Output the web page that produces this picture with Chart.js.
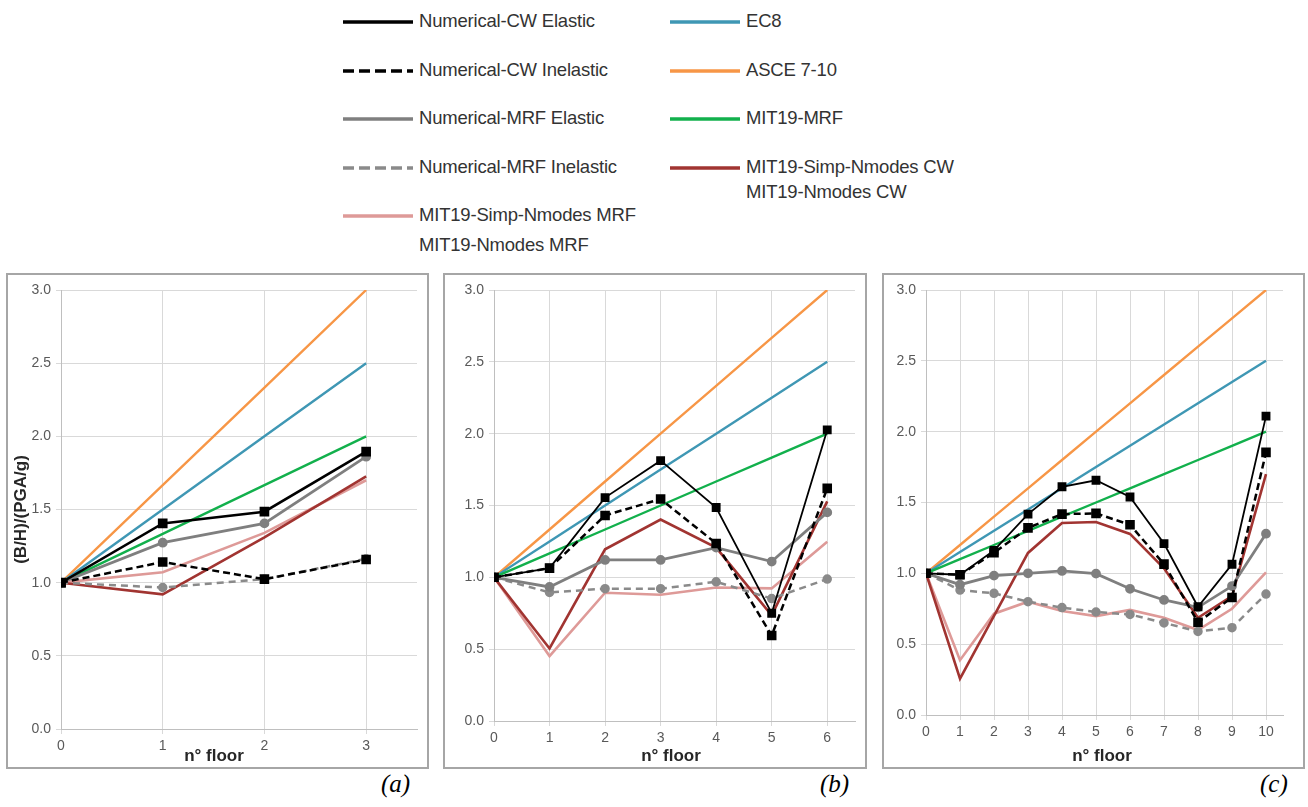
<!DOCTYPE html>
<html>
<head>
<meta charset="utf-8">
<script src="https://cdn.jsdelivr.net/npm/chart.js@4/dist/chart.umd.min.js"></script>
<style>
  body { margin: 0; width: 1308px; height: 807px; background: #fff; position: relative; overflow: hidden; }
  .frame { position: absolute; border: 2px solid #a6a6a6; box-sizing: border-box; }
  canvas { position: absolute; }
  .cap { position: absolute; font: italic 25px "Liberation Serif", "DejaVu Serif", serif; color: #000; }
  .leg { position: absolute; font: 18.5px "Liberation Sans", sans-serif; letter-spacing: -0.2px; color: #333; white-space: nowrap; }
  #legend svg { position: absolute; }
</style>
</head>
<body>
<div id="legend"></div>

<div class="frame" style="left:6px;top:273px;width:423px;height:496px"></div>
<div class="frame" style="left:443px;top:273px;width:424px;height:496px"></div>
<div class="frame" style="left:882px;top:273px;width:423px;height:496px"></div>

<canvas id="chartA" width="419" height="492" style="left:8px;top:275px"></canvas>
<canvas id="chartB" width="420" height="492" style="left:445px;top:275px"></canvas>
<canvas id="chartC" width="419" height="492" style="left:884px;top:275px"></canvas>

<div class="cap" style="left:381px;top:770px">(a)</div>
<div class="cap" style="left:820px;top:770px">(b)</div>
<div class="cap" style="left:1260px;top:770px">(c)</div>

<script>
// floors (x categories)
const floorsA = [0, 1, 2, 3];
const floorsB = [0, 1, 2, 3, 4, 5, 6];
const floorsC = [0, 1, 2, 3, 4, 5, 6, 7, 8, 9, 10];

// (a) 3 floors
const cwElasticA    = [1.0, 1.405, 1.485, 1.896];
const cwInelasticA  = [1.0, 1.141, 1.024, 1.158];
const mrfElasticA   = [1.0, 1.273, 1.405, 1.861];
const mrfInelasticA = [1.0, 0.967, 1.024, 1.163];
const nmodesCwA     = [1.0, 0.92, 1.31, 1.727];
const nmodesMrfA    = [1.0, 1.071, 1.34, 1.70];
const ec8A          = [1.0, 1.5, 2.0, 2.5];
const asceA         = [1.0, 1.667, 2.333, 3.0];
const mit19MrfA     = [1.0, 1.333, 1.667, 2.0];

// (b) 6 floors
const cwElasticB    = [1.0, 1.064, 1.555, 1.812, 1.486, 0.75, 2.026];
const cwInelasticB  = [1.0, 1.064, 1.431, 1.545, 1.236, 0.595, 1.619];
const mrfElasticB   = [1.0, 0.933, 1.121, 1.121, 1.207, 1.11, 1.452];
const mrfInelasticB = [1.0, 0.895, 0.921, 0.921, 0.969, 0.852, 0.988];
const nmodesCwB     = [1.0, 0.505, 1.195, 1.402, 1.207, 0.735, 1.529];
const nmodesMrfB    = [1.0, 0.452, 0.893, 0.879, 0.929, 0.923, 1.248];
const ec8B          = [1.0, 1.25, 1.5, 1.75, 2.0, 2.25, 2.5];
const asceB         = [1.0, 1.333, 1.667, 2.0, 2.333, 2.667, 3.0];
const mit19MrfB     = [1.0, 1.167, 1.333, 1.5, 1.667, 1.833, 2.0];

// (c) 10 floors
const cwElasticC    = [1.0, 0.99, 1.162, 1.418, 1.611, 1.657, 1.539, 1.21, 0.764, 1.064, 2.11];
const cwInelasticC  = [1.0, 0.99, 1.145, 1.321, 1.418, 1.423, 1.343, 1.065, 0.655, 0.83, 1.854];
const mrfElasticC   = [1.0, 0.92, 0.984, 1.0, 1.017, 0.998, 0.891, 0.812, 0.76, 0.91, 1.28];
const mrfInelasticC = [1.0, 0.882, 0.859, 0.80, 0.758, 0.727, 0.71, 0.65, 0.59, 0.616, 0.854];
const nmodesCwC     = [1.0, 0.257, 0.70, 1.144, 1.355, 1.362, 1.278, 1.036, 0.686, 0.84, 1.70];
const nmodesMrfC    = [1.0, 0.387, 0.715, 0.80, 0.734, 0.698, 0.742, 0.686, 0.60, 0.75, 1.007];
const ec8C          = [1.0, 1.15, 1.3, 1.45, 1.6, 1.75, 1.9, 2.05, 2.2, 2.35, 2.5];
const asceC         = [1.0, 1.2, 1.4, 1.6, 1.8, 2.0, 2.2, 2.4, 2.6, 2.8, 3.0];
const mit19MrfC     = [1.0, 1.1, 1.2, 1.3, 1.4, 1.5, 1.6, 1.7, 1.8, 1.9, 2.0];

const C = {
    black: '#000000',
    gray: '#7f7f7f',
    grayDash: '#8a8a8a',
    ec8: '#3f97b4',
    asce: '#f79646',
    mit: '#12b04c',
    red: '#a13431',
    pink: '#de9a98'
};

// legend (HTML, two columns)
const legendItems = [
    { text: ['Numerical-CW Elastic'], color: C.black, x: 343, y: 22 },
    { text: ['Numerical-CW Inelastic'], color: C.black, dash: '11 5', x: 343, y: 71 },
    { text: ['Numerical-MRF Elastic'], color: C.gray, x: 343, y: 119 },
    { text: ['Numerical-MRF Inelastic'], color: C.grayDash, dash: '11 5', x: 343, y: 168 },
    { text: ['MIT19-Simp-Nmodes MRF', 'MIT19-Nmodes MRF'], color: C.pink, x: 343, y: 216 },
    { text: ['EC8'], color: C.ec8, x: 670, y: 22 },
    { text: ['ASCE 7-10'], color: C.asce, x: 670, y: 71 },
    { text: ['MIT19-MRF'], color: C.mit, x: 670, y: 119 },
    { text: ['MIT19-Simp-Nmodes CW', 'MIT19-Nmodes CW'], color: C.red, x: 670, y: 168 }
];

const legendEl = document.getElementById('legend');
legendItems.forEach(item => {
    legendEl.insertAdjacentHTML('beforeend',
        `<svg width="72" height="8" style="left:${item.x}px;top:${item.y - 4}px">
           <line x1="0" y1="4" x2="70" y2="4" stroke="${item.color}" stroke-width="3.5"
           ${item.dash ? `stroke-dasharray="${item.dash}"` : ''}/></svg>`);
    item.text.forEach((t, i) => {
        const d = document.createElement('div');
        d.className = 'leg';
        d.style.left = (item.x + 76) + 'px';
        d.style.top = (item.y - 12 + i * (item.x < 500 ? 30 : 25)) + 'px';
        d.textContent = t;
        legendEl.appendChild(d);
    });
});

// draws "n° floor" where Excel put it
const floorTitle = {
    id: 'floorTitle',
    afterDraw(chart, args, o) {
        const ctx = chart.ctx;
        ctx.save();
        ctx.font = 'bold 17px "Liberation Sans", Arial, sans-serif';
        ctx.fillStyle = '#262626';
        ctx.textAlign = 'center';
        ctx.textBaseline = 'middle';
        ctx.fillText('n° floor', o.x, o.y);
        ctx.restore();
    }
};

function makeChart(id, floors, s, p) {
    const line = (label, data, color, width, extra) => Object.assign({
        label, data,
        borderColor: color,
        backgroundColor: color,
        borderWidth: width,
        pointRadius: 0,
        tension: 0
    }, extra || {});

    const datasets = [
        line('Numerical-CW Elastic', s.cwEl, C.black, p.blackWidth, { pointStyle: 'rect', pointRadius: 5 }),
        line('Numerical-CW Inelastic', s.cwIn, C.black, 2.5, { borderDash: [7, 4], pointStyle: 'rect', pointRadius: 5 }),
        line('Numerical-MRF Elastic', s.mrfEl, C.gray, 2.8, { pointStyle: 'circle', pointRadius: 3.5 }),
        line('Numerical-MRF Inelastic', s.mrfIn, C.grayDash, 2.5, { borderDash: [7, 5], pointStyle: 'circle', pointRadius: 3.5 }),
        line('MIT19-Simp-Nmodes CW', s.red, C.red, 2.6),
        line('MIT19-Simp-Nmodes MRF', s.pink, C.pink, 2.6),
        line('MIT19-MRF', s.mit, C.mit, 2.4),
        line('EC8', s.ec8, C.ec8, 2.4),
        line('ASCE 7-10', s.asce, C.asce, 2.4)
    ];

    const tickFont = { family: '"Liberation Sans", Arial, sans-serif', size: 14 };

    return new Chart(document.getElementById(id), {
        type: 'line',
        data: { labels: floors, datasets },
        options: {
            responsive: false,
            animation: false,
            layout: { padding: { left: 0, top: 15, right: p.right, bottom: 0 } },
            plugins: {
                legend: { display: false },
                tooltip: { enabled: false },
                floorTitle: { x: p.titleX, y: 481 }
            },
            scales: {
                x: {
                    type: 'linear',
                    min: 0,
                    max: floors[floors.length - 1] + 0.5,
                    afterFit: sc => { sc.height = p.bottom; },
                    ticks: { stepSize: 1, includeBounds: false, color: '#595959', padding: 4, font: tickFont },
                    grid: { color: '#d9d9d9', tickLength: 5 },
                    border: { color: '#bfbfbf' }
                },
                y: {
                    min: 0,
                    max: 3,
                    afterFit: sc => { sc.width = p.left; },
                    ticks: { stepSize: 0.5, color: '#595959', padding: 5, font: tickFont,
                             callback: v => v.toFixed(1) },
                    grid: { color: '#d9d9d9', tickLength: 5 },
                    border: { color: '#bfbfbf' },
                    title: {
                        display: !!p.yTitle,
                        text: p.yTitle || '',
                        color: '#262626',
                        padding: { top: 3, bottom: 0 },
                        font: { family: '"Liberation Sans", Arial, sans-serif', size: 17, weight: 'bold' }
                    }
                }
            }
        },
        plugins: [floorTitle]
    });
}

makeChart('chartA', floorsA, {
    cwEl: cwElasticA, cwIn: cwInelasticA, mrfEl: mrfElasticA, mrfIn: mrfInelasticA,
    red: nmodesCwA, pink: nmodesMrfA, ec8: ec8A, asce: asceA, mit: mit19MrfA
}, { left: 53, right: 10, bottom: 38, titleX: 206, blackWidth: 2.6, yTitle: '(B/H)/(PGA/g)' });

makeChart('chartB', floorsB, {
    cwEl: cwElasticB, cwIn: cwInelasticB, mrfEl: mrfElasticB, mrfIn: mrfInelasticB,
    red: nmodesCwB, pink: nmodesMrfB, ec8: ec8B, asce: asceB, mit: mit19MrfB
}, { left: 49, right: 10, bottom: 46, titleX: 226, blackWidth: 1.8 });

makeChart('chartC', floorsC, {
    cwEl: cwElasticC, cwIn: cwInelasticC, mrfEl: mrfElasticC, mrfIn: mrfInelasticC,
    red: nmodesCwC, pink: nmodesMrfC, ec8: ec8C, asce: asceC, mit: mit19MrfC
}, { left: 42, right: 20, bottom: 52, titleX: 218, blackWidth: 1.8 });
</script>
</body>
</html>
